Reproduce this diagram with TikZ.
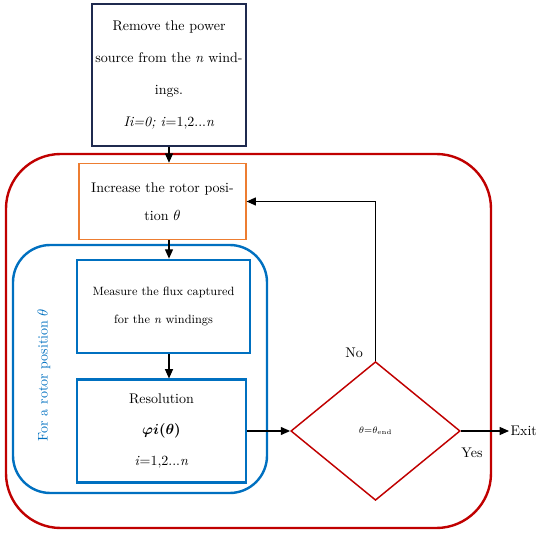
\documentclass[tikz,border=0pt]{standalone}
\usepackage{amsmath}
\usepackage{bm}
\usepackage{tikz}
\usetikzlibrary{arrows.meta,positioning,shapes.geometric,calc}

\definecolor{navyline}{HTML}{1F2A4F}
\definecolor{orangeline}{HTML}{ED7D31}
\definecolor{blueline}{HTML}{0070C0}
\definecolor{redline}{HTML}{C00000}

\tikzset{
  box/.style={draw, align=center, inner sep=0pt},
  flow/.style={-{Triangle[length=7pt,width=6pt]}, line width=0.9pt},
}

\begin{document}
\begin{tikzpicture}[x=0.75pt, y=-0.75pt]
  \useasboundingbox (0,0) rectangle (550,534);
  % Frames
  \draw[redline, line width=1.8pt, rounded corners=41pt] (6,154) rectangle (491,528);
  \draw[blueline, line width=1.8pt, rounded corners=28pt] (13,245) rectangle (267,493);
  \node[text=blueline, rotate=90, font=\fontsize{10.5}{12}\selectfont] (label) at (44,375) {For a rotor position $\theta$};
  % Boxes
  \node[box, navyline, line width=1.5pt, text=black, minimum width=115.5pt, minimum height=106.5pt,
        font=\fontsize{10.5}{24}\selectfont] (remove) at (169,75)
        {Remove the power\\ source from the \textit{n} wind-\\ ings.\\ \textit{Ii=0; i}=1,2...\textit{n}};
  \node[box, orangeline, line width=1.1pt, text=black, minimum width=125pt, minimum height=57pt,
        font=\fontsize{10.5}{21}\selectfont] (increase) at (162.5,201.5)
        {Increase the rotor posi-\\ tion $\theta$};
  \node[box, blueline, line width=1.8pt, text=black, minimum width=130pt, minimum height=70pt,
        font=\fontsize{9}{21}\selectfont] (measure) at (163.5,306.5)
        {Measure the flux captured\\ for the \textit{n} windings};
  \node[box, blueline, line width=1.8pt, text=black, minimum width=127pt, minimum height=77pt,
        font=\fontsize{10.5}{23}\selectfont] (resol) at (161.5,431)
        {Resolution\\ $\bm{\varphi i(\theta)}$\\ \textit{i}=1,2...\textit{n}};
  \node[diamond, draw=redline, line width=1.1pt, minimum width=127pt, minimum height=104pt,
        inner sep=0pt, font=\scriptsize] (test) at (375.5,431) {$\theta$=$\theta_{\mathrm{end}}$};
  \node[anchor=west, inner sep=1pt, font=\fontsize{10.5}{12}\selectfont] (exit) at (509,431) {Exit};
  % Connectors
  \draw[flow] (remove.south) -- (remove.south |- increase.north);
  \draw[flow] (increase.south -| remove.south) -- (measure.north -| remove.south);
  \draw[flow] (measure.south -| remove.south) -- (resol.north -| remove.south);
  \draw[flow] (resol.east) -- (test.west);
  \draw[flow] (test.north) |- (increase.east);
  \draw[flow] (test.east) -- (exit.west);
  % Branch labels
  \node[font=\fontsize{10.5}{12}\selectfont] (no) at (354,353) {No};
  \node[font=\fontsize{10.5}{12}\selectfont] (yes) at (472,453) {Yes};
\end{tikzpicture}
\end{document}
